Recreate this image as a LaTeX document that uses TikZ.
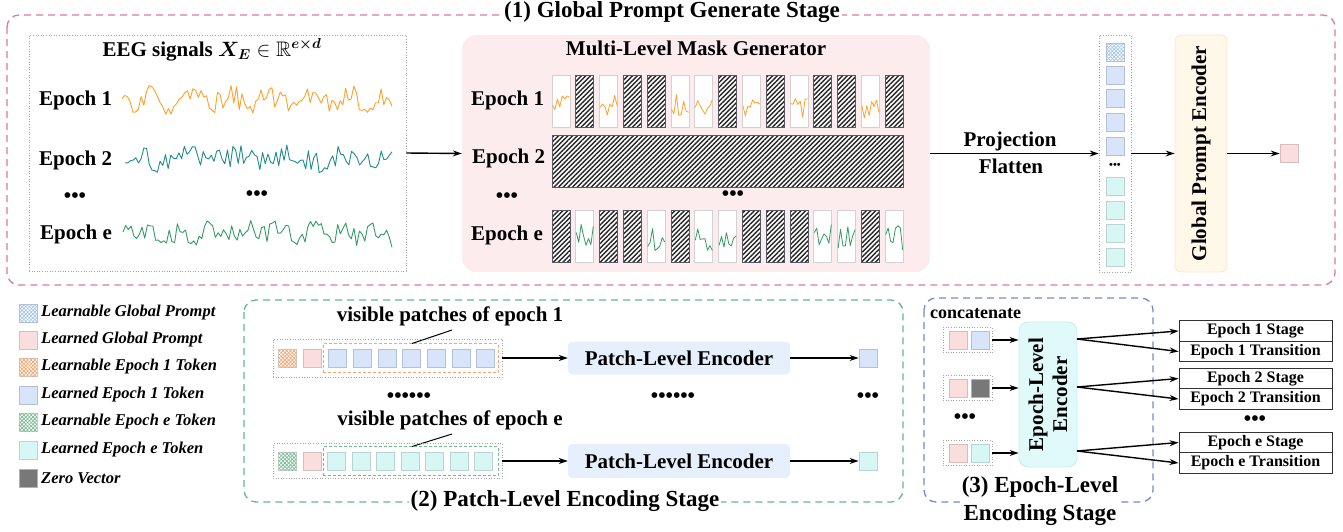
\documentclass[tikz,border=0pt]{standalone}
\usepackage{fontspec}
\usepackage{amsmath,amssymb,bm}
\setmainfont{Liberation Serif}
\usetikzlibrary{patterns,patterns.meta,arrows.meta,calc}
\definecolor{stPink}{RGB}{222,120,165}
\definecolor{stGreen}{RGB}{95,185,145}
\definecolor{stBlue}{RGB}{110,140,205}
\definecolor{maskBg}{RGB}{252,236,237}
\definecolor{gpeBg}{RGB}{255,247,232}
\definecolor{gpeBd}{RGB}{250,232,205}
\definecolor{pinkT}{RGB}{250,222,222}
\definecolor{pinkBd}{RGB}{215,190,190}
\definecolor{blueT}{RGB}{215,228,250}
\definecolor{blueBd}{RGB}{180,192,212}
\definecolor{cyanT}{RGB}{215,247,245}
\definecolor{cyanBd}{RGB}{185,212,210}
\definecolor{zeroT}{RGB}{120,120,120}
\definecolor{pleBg}{RGB}{230,240,252}
\definecolor{eleBg}{RGB}{224,250,250}
\definecolor{eleBd}{RGB}{200,236,236}
\definecolor{sigO}{RGB}{255,160,40}
\definecolor{sigT}{RGB}{30,140,140}
\definecolor{sigG}{RGB}{50,155,100}
\definecolor{ptO}{RGB}{245,165,110}
\definecolor{ptB}{RGB}{165,195,235}
\definecolor{ptG}{RGB}{120,185,145}
\definecolor{hatchBd}{RGB}{85,88,100}
\begin{document}
\begin{tikzpicture}[x=1pt,y=-1pt,
  lbl/.style={font=\fontsize{21}{24}\selectfont\bfseries, inner sep=0},
  ttl/.style={font=\fontsize{23}{28}\selectfont\bfseries, inner sep=2pt, fill=white},
  leg/.style={font=\fontsize{16.5}{19}\selectfont\bfseries\itshape, inner sep=0, anchor=west},
  dotbox/.style={draw=gray!70, dotted, line width=0.6pt, inner sep=0},
  stagebox/.style={dashed, dash pattern=on 7pt off 5pt, line width=1.3pt, rounded corners=12pt},
  tok/.style={minimum size=18pt, inner sep=0, line width=0.8pt},
  ptok/.style={tok, draw=pinkBd, fill=pinkT},
  btok/.style={tok, draw=blueBd, fill=blueT},
  ctok/.style={tok, draw=cyanBd, fill=cyanT},
  ztok/.style={tok, draw=gray!60, fill=zeroT},
  mesh/.style={preaction={fill=white}, pattern={Lines[angle=45,distance=2.6pt,line width=0.7pt]}, pattern color=#1,
     postaction={pattern={Lines[angle=-45,distance=2.6pt,line width=0.7pt]}, pattern color=#1}},
  lbtok/.style={tok, draw=blueBd, mesh=ptB},
  lotok/.style={tok, draw=gray!40, mesh=ptO},
  lgtok/.style={tok, draw=gray!40, mesh=ptG},
  hpatch/.style={minimum width=18pt, minimum height=52pt, inner sep=0, draw=hatchBd, line width=0.8pt,
     preaction={fill=white}, pattern={Lines[angle=45,distance=3.3pt,line width=1.4pt]}, pattern color=black!85},
  spatch/.style={minimum width=18pt, minimum height=52pt, inner sep=0, draw=gray!35, line width=0.8pt, fill=white},
  arr/.style={-{Stealth[length=9pt,width=6pt]}, line width=1.4pt},
  sig/.style={line width=0.9pt, line join=round}
]
\useasboundingbox (0,0) rectangle (1343,531);
\pgfmathsetseed{4271}

% ================= Stage 1 =================
\draw[stagebox, draw=stPink] (7,15) rectangle (1335,285);
\node[ttl] (t1) at (672,12) {(1) Global Prompt Generate Stage};

% EEG box
\node[dotbox, minimum width=377pt, minimum height=236pt] (eeg) at (217.5,153) {};
\node[lbl] (eegt) at (212,50) {EEG signals $\bm{X_E}\in\mathbb{R}^{\bm{e\times d}}$};
\node[lbl, anchor=west] (e1) at (39,100) {Epoch 1};
\node[lbl, anchor=west] (e2) at (39,160) {Epoch 2};
\node[lbl] (ed1) at (75,198) {•••};
\node[lbl] (ed2) at (257,196) {•••};
\node[lbl, anchor=west] (ee) at (40,234) {Epoch e};
\draw[sig, sigO] plot[domain=122:392, samples=100] (\x,{100+11*rand+5*sin(\x*9)});
\draw[sig, sigT] plot[domain=125:392, samples=100] (\x,{158+11*rand+4*sin(\x*7+40)});
\draw[sig, sigG] plot[domain=123:392, samples=100] (\x,{233+11*rand+4*sin(\x*11+80)});

% Mask generator
\node[rounded corners=14pt, fill=maskBg, minimum width=468pt, minimum height=237pt, inner sep=0] (mask) at (696,153.5) {};
\node[lbl] (maskt) at (696,48) {Multi-Level Mask Generator};
\node[lbl, anchor=west] (m1) at (471,100) {Epoch 1};
\node[lbl, anchor=west] (m2) at (472,158) {Epoch 2};
\node[lbl] (md1) at (507,198) {•••};
\node[lbl] (md2) at (733,196) {•••};
\node[lbl, anchor=west] (me) at (471,235) {Epoch e};
% row 1
\foreach \i in {2,4,5,8,10,12,13,15}{
  \pgfmathsetmacro{\xc}{561+(\i-1)*23.8}
  \node[hpatch] (pa\i) at (\xc,101) {};
}
\foreach \i in {1,3,6,7,9,11,14}{
  \pgfmathsetmacro{\xc}{561+(\i-1)*23.8}
  \pgfmathsetmacro{\xa}{\xc-8.5}
  \pgfmathsetmacro{\xb}{\xc+8.5}
  \node[spatch] (pa\i) at (\xc,101) {};
  \draw[sig, sigO, line width=0.8pt] plot[domain=\xa:\xb, samples=8] (\x,{106+12*rand});
}
% row 2 (fully masked)
\node[hpatch, minimum width=351pt] (pb) at (727.5,161) {};
% row e
\foreach \i in {1,3,4,6,9,10,11,14}{
  \pgfmathsetmacro{\xc}{561+(\i-1)*23.8}
  \node[hpatch] (pe\i) at (\xc,236) {};
}
\foreach \i in {2,5,7,8,12,13,15}{
  \pgfmathsetmacro{\xc}{561+(\i-1)*23.8}
  \pgfmathsetmacro{\xa}{\xc-8.5}
  \pgfmathsetmacro{\xb}{\xc+8.5}
  \node[spatch] (pe\i) at (\xc,236) {};
  \draw[sig, sigG, line width=0.8pt] plot[domain=\xa:\xb, samples=8] (\x,{238+14*rand});
}
\draw[arr] (eeg.east) -- (mask.west);

% token column
\node[dotbox, minimum width=32pt, minimum height=237pt] (col) at (1115,153.5) {};
\node[lbtok] (c0) at (1115,52) {};
\foreach \yy [count=\k] in {75,98.5,122,146}{ \node[btok] (cb\k) at (1115,\yy) {}; }
\node[font=\fontsize{11}{12}\selectfont\bfseries, inner sep=0] (cd) at (1115,166) {•••};
\foreach \yy [count=\k] in {186,210,233.5,257}{ \node[ctok] (cc\k) at (1115,\yy) {}; }
\draw[arr] (mask.east) -- (col.west);
\node[lbl] (proj) at (1010,141) {Projection};
\node[lbl] (flat) at (1011,166) {Flatten};

% Global prompt encoder
\node[draw=gpeBd, fill=gpeBg, rounded corners=6pt, minimum width=52pt, minimum height=237pt, inner sep=0, line width=0.8pt] (gpe) at (1201,153.5) {\rotatebox{90}{\fontsize{21}{24}\selectfont\bfseries Global Prompt Encoder}};
\draw[arr] (col.east) -- (gpe.west);
\node[ptok] (gp) at (1289,153.5) {};
\draw[arr] (gpe.east) -- (gp.west);

% ================= Legend =================
\node[lbtok] (l1) at (28,313) {};
\node[leg] (l1t) at (41,313) {Learnable Global Prompt};
\node[ptok] (l2) at (28,340) {};
\node[leg] (l2t) at (41,340) {Learned Global Prompt};
\node[lotok] (l3) at (28,367) {};
\node[leg] (l3t) at (41,367) {Learnable Epoch 1 Token};
\node[btok] (l4) at (28,395) {};
\node[leg] (l4t) at (41,395) {Learned Epoch 1 Token};
\node[lgtok] (l5) at (28,422) {};
\node[leg] (l5t) at (41,422) {Learnable Epoch e Token};
\node[ctok] (l6) at (28,450) {};
\node[leg] (l6t) at (41,450) {Learned Epoch e Token};
\node[ztok] (l7) at (28,478) {};
\node[leg] (l7t) at (41,478) {Zero Vector};

% ================= Stage 2 =================
\draw[stagebox, draw=stGreen] (244,300) rectangle (903,502);
\node[ttl] (t2) at (565,501) {(2) Patch-Level Encoding Stage};

% row 1
\node[dotbox, minimum width=229pt, minimum height=38pt] (r1) at (387.5,358) {};
\node[draw=ptO, dashed, dash pattern=on 3pt off 2pt, line width=0.8pt, minimum width=175pt, minimum height=29pt, inner sep=0] (in1) at (410.5,358) {};
\node[lotok] (r1a) at (287.5,358) {};
\node[ptok] (r1b) at (312.5,358) {};
\foreach \k in {0,...,6}{ \node[btok] (r1c\k) at ({337.5+24.7*\k},358) {}; }
\node[lbl] (vp1) at (450,316) {visible patches of epoch 1};
\coordinate (vp1a) at (452,330);
\coordinate (vp1b) at (412,343.5);
\draw[line width=1pt] (vp1a) -- (vp1b);
\node[fill=pleBg, rounded corners=4pt, minimum width=222pt, minimum height=33pt, inner sep=0, font=\fontsize{21}{24}\selectfont\bfseries] (pe1) at (679,358) {Patch-Level Encoder};
\draw[arr] (r1.east) -- (pe1.west);
\node[btok] (o1) at (868,358) {};
\draw[arr] (pe1.east) -- (o1.west);

\node[lbl] (pd1) at (409,398) {••••••};
\node[lbl] (pd2) at (673,398) {••••••};
\node[lbl] (pd3) at (868,398) {•••};

% row e
\node[lbl] (vpe) at (450,420) {visible patches of epoch e};
\coordinate (vpea) at (452,434);
\coordinate (vpeb) at (412,446.5);
\draw[line width=1pt] (vpea) -- (vpeb);
\node[dotbox, minimum width=229pt, minimum height=35pt] (re) at (387.5,461) {};
\node[draw=ptG, dashed, dash pattern=on 3pt off 2pt, line width=0.8pt, minimum width=175pt, minimum height=29pt, inner sep=0] (ine) at (410.5,461) {};
\node[lgtok] (rea) at (287.5,461) {};
\node[ptok] (reb) at (312.5,461) {};
\foreach \k in {0,...,6}{ \node[ctok] (rec\k) at ({336.5+24.5*\k},461) {}; }
\node[fill=pleBg, rounded corners=4pt, minimum width=222pt, minimum height=34pt, inner sep=0, font=\fontsize{21}{24}\selectfont\bfseries] (pe2) at (679,461) {Patch-Level Encoder};
\draw[arr] (re.east) -- (pe2.west);
\node[ctok] (oe) at (868,461) {};
\draw[arr] (pe2.east) -- (oe.west);

% ================= Stage 3 =================
\draw[stagebox, draw=stBlue] (924,298) rectangle (1153,502);
\node[ttl, align=center] (t3) at (1040,501) {(3) Epoch-Level\\Encoding Stage};
\node[font=\fontsize{18}{20}\selectfont\bfseries, inner sep=0, anchor=west] (cat) at (930,314) {concatenate};

\node[fill=eleBg, draw=eleBd, line width=0.8pt, rounded corners=9pt, minimum width=58pt, minimum height=145pt, inner sep=0] (ele) at (1048,394.5)
  {\rotatebox{90}{\parbox{140pt}{\centering\fontsize{21}{24}\selectfont\bfseries Epoch-Level\\Encoder}}};

\node[dotbox, minimum width=49pt, minimum height=25pt] (q1) at (967.5,340) {};
\node[ptok] (q1a) at (958,340) {};
\node[btok] (q1b) at (980,340) {};
\node[dotbox, minimum width=49pt, minimum height=25pt] (q2) at (967.5,388) {};
\node[ptok] (q2a) at (958,388) {};
\node[ztok] (q2b) at (980,388) {};
\node[lbl] (qd) at (965,419) {•••};
\node[dotbox, minimum width=49pt, minimum height=25pt] (q3) at (967.5,453) {};
\node[ptok] (q3a) at (958,453) {};
\node[ctok] (q3b) at (980,453) {};
\draw[arr] (q1.east) -- (q1.east -| ele.west);
\draw[arr] (q2.east) -- (q2.east -| ele.west);
\draw[arr] (q3.east) -- (q3.east -| ele.west);

% output boxes
\tikzset{obox/.style={draw=black!80, line width=0.9pt, minimum width=153pt, minimum height=20.5pt, inner sep=0, font=\fontsize{16}{18}\selectfont\bfseries}}
\node[obox] (s1) at (1255.5,331) {Epoch 1 Stage};
\node[obox] (tr1) at (1255.5,351.5) {Epoch 1 Transition};
\node[obox] (s2) at (1255.5,378.5) {Epoch 2 Stage};
\node[obox] (tr2) at (1255.5,399) {Epoch 2 Transition};
\node[lbl] (od) at (1255,421) {•••};
\node[obox] (se) at (1255.5,442.5) {Epoch e Stage};
\node[obox] (tre) at (1255.5,463) {Epoch e Transition};

\coordinate (x1) at (1077,339);
\coordinate (x2) at (1077,387);
\coordinate (x3) at (1077,451);
\draw[arr] (x1) -- (s1.west);
\draw[arr] (x1) -- (tr1.west);
\draw[arr] (x2) -- (s2.west);
\draw[arr] (x2) -- (tr2.west);
\draw[arr] (x3) -- (se.west);
\draw[arr] (x3) -- (tre.west);
\end{tikzpicture}
\end{document}
